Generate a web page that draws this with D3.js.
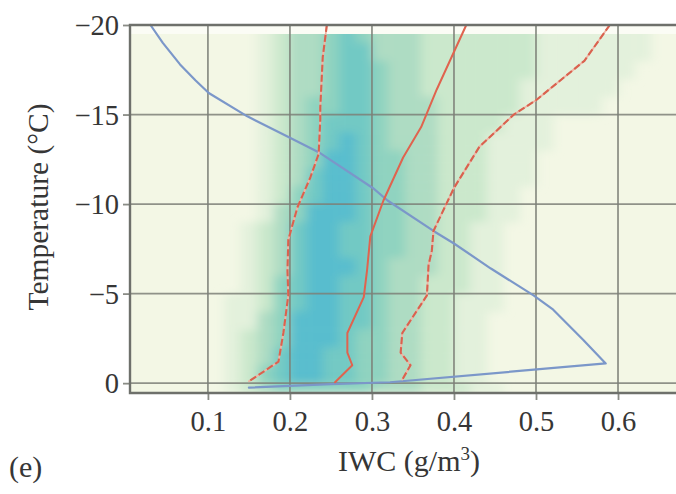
<!DOCTYPE html>
<html>
<head>
<meta charset="utf-8">
<script src="https://cdn.jsdelivr.net/npm/d3@7"></script>
<style>
  html, body { margin: 0; padding: 0; background: #ffffff; }
  svg { display: block; }
  text { font-family: "Liberation Serif", "DejaVu Serif", serif; fill: #363636; }
</style>
</head>
<body>
<svg id="chart" width="676" height="494"></svg>
<script>
// ---- data ----------------------------------------------------------------
const xTicks = [0.1, 0.2, 0.3, 0.4, 0.5, 0.6];
const xTickLabels = ["0.1", "0.2", "0.3", "0.4", "0.5", "0.6"];
const yTicks = [-20, -15, -10, -5, 0];
const yTickLabels = ["\u221220", "\u221215", "\u221210", "\u22125", "0"];

// density field: bin edges in IWC and temperature, and a level per cell
const iwcEdges = [0.12, 0.14, 0.16, 0.18, 0.20, 0.22, 0.24, 0.26, 0.28, 0.30,
                  0.32, 0.34, 0.36, 0.38, 0.40, 0.42, 0.44, 0.46, 0.48, 0.50,
                  0.52, 0.54, 0.56, 0.58, 0.60, 0.62, 0.64, 0.66, 0.68];
const tempEdges = [-19.5, -19, -18, -17, -16, -15, -14, -13, -12, -11, -10,
                   -9, -8, -7, -6, -5, -4, -3, -2, -1, 0, 0.55];
const density = [
  [0,0,1,2,3,3,4,5,4,3,3,3,2,2,2,2,2,2,2,1,1,1,1,1,1,1,0,0],
  [0,0,1,2,3,3,4,5,5,3,3,3,2,2,2,2,2,2,2,1,1,1,1,1,1,1,0,0],
  [0,0,1,2,3,3,4,5,5,4,3,3,2,2,2,2,2,2,2,1,1,1,1,1,1,0,0,0],
  [0,0,1,2,3,3,4,5,5,4,3,3,2,2,2,2,2,2,1,1,1,1,1,1,0,0,0,0],
  [0,0,1,2,3,4,4,5,5,4,3,3,3,2,2,2,2,2,1,1,1,1,1,0,0,0,0,0],
  [0,0,1,2,3,4,5,5,5,4,3,3,3,2,2,2,2,1,1,1,0,0,0,0,0,0,0,0],
  [0,0,1,2,3,4,5,6,5,4,3,3,3,2,2,2,1,1,1,1,0,0,0,0,0,0,0,0],
  [0,0,1,2,3,4,6,6,5,4,4,3,3,2,2,2,1,1,1,0,0,0,0,0,0,0,0,0],
  [0,0,1,2,3,5,6,6,5,4,4,3,3,2,2,2,1,1,1,0,0,0,0,0,0,0,0,0],
  [0,0,1,2,4,5,6,6,5,4,4,3,3,2,2,2,1,1,0,0,0,0,0,0,0,0,0,0],
  [0,0,1,3,4,6,6,6,5,4,4,3,3,2,2,2,1,1,0,0,0,0,0,0,0,0,0,0],
  [0,1,2,3,5,6,6,5,5,4,4,3,3,2,2,1,1,0,0,0,0,0,0,0,0,0,0,0],
  [0,1,2,3,5,6,6,5,5,4,4,3,3,2,2,1,1,0,0,0,0,0,0,0,0,0,0,0],
  [0,1,2,3,5,6,6,6,5,4,3,3,3,2,2,1,1,0,0,0,0,0,0,0,0,0,0,0],
  [0,1,2,4,5,6,6,5,5,4,3,3,2,2,2,1,1,0,0,0,0,0,0,0,0,0,0,0],
  [1,1,2,4,5,6,6,5,5,4,3,3,2,2,1,1,1,0,0,0,0,0,0,0,0,0,0,0],
  [1,1,3,4,6,6,6,5,5,4,3,3,2,2,1,1,0,0,0,0,0,0,0,0,0,0,0,0],
  [1,2,3,4,6,6,6,5,4,4,3,3,2,2,1,1,0,0,0,0,0,0,0,0,0,0,0,0],
  [1,2,3,5,6,6,5,5,4,4,3,3,2,2,1,1,0,0,0,0,0,0,0,0,0,0,0,0],
  [1,2,4,5,6,6,5,5,4,4,3,3,2,2,1,1,0,0,0,0,0,0,0,0,0,0,0,0],
  [1,2,3,4,4,4,4,4,4,3,3,3,2,2,2,1,1,0,0,0,0,0,0,0,0,0,0,0]
];

// profile curves: [IWC, temperature]
const blueCurve = [
  [0.030,-20], [0.045,-19], [0.066,-17.8], [0.085,-16.9], [0.101,-16.2],
  [0.148,-14.9], [0.200,-13.7], [0.235,-12.9], [0.301,-10.9], [0.319,-10.2],
  [0.375,-8.5], [0.400,-7.8], [0.445,-6.4], [0.497,-4.9], [0.521,-4.1],
  [0.558,-2.4], [0.585,-1.1], [0.322,-0.05], [0.250,0.05], [0.150,0.25]
];
const lowerDashed = [
  [0.245,-20], [0.240,-18.2], [0.237,-15.4], [0.237,-14.7], [0.235,-12.8],
  [0.225,-11.5], [0.209,-9.8], [0.198,-8.0], [0.197,-6.3], [0.198,-4.9],
  [0.192,-2.8], [0.186,-1.2], [0.150,-0.1]
];
const middleSolid = [
  [0.415,-20], [0.379,-16.4], [0.360,-14.3], [0.338,-12.6], [0.314,-10.2],
  [0.298,-8.2], [0.294,-6.3], [0.290,-4.8], [0.270,-2.8], [0.270,-1.7],
  [0.276,-1.0], [0.255,-0.05]
];
const upperDashed = [
  [0.590,-20], [0.559,-18.0], [0.500,-15.8], [0.473,-15.0], [0.431,-13.2],
  [0.400,-10.9], [0.375,-8.5], [0.373,-7.4], [0.369,-6.6], [0.367,-4.9],
  [0.337,-2.8], [0.335,-1.7], [0.347,-1.0], [0.337,-0.2]
];

// ---- layout ----------------------------------------------------------------
const svg = d3.select("#chart");
const plotLeft = 130, plotRight = 676, plotTop = 25, plotBottom = 393;

const x = d3.scaleLinear().domain([0.005, 0.6707]).range([plotLeft, plotRight]);
const y = d3.scaleLinear().domain([-20, 0.55]).range([plotTop, plotBottom]);

const levelColor = d3.scaleLinear()
  .domain([1, 2, 3, 4, 5, 6])
  .range(["#e3f1dc", "#cbe8cc", "#aedcc3", "#8fd3c0", "#72c9c4", "#58bdce"]);

const defs = svg.append("defs");
defs.append("clipPath").attr("id", "plotClip")
  .append("rect")
  .attr("x", plotLeft).attr("y", y(-19.5))
  .attr("width", plotRight - plotLeft).attr("height", plotBottom - y(-19.5));
const blur = defs.append("filter").attr("id", "soften")
  .attr("x", "-10%").attr("y", "-10%").attr("width", "120%").attr("height", "120%");
blur.append("feGaussianBlur").attr("stdDeviation", "5.5 4.5");

// plot background and the pale band above the data
svg.append("rect")
  .attr("x", plotLeft).attr("y", plotTop)
  .attr("width", plotRight - plotLeft).attr("height", plotBottom - plotTop)
  .attr("fill", "#f3f7e5");
svg.append("rect")
  .attr("x", plotLeft).attr("y", plotTop)
  .attr("width", plotRight - plotLeft).attr("height", y(-19.5) - plotTop)
  .attr("fill", "#fbfcf5");

// density cells (extended a little past the top edge so the blur keeps a crisp border)
const cells = [];
density.forEach((row, i) => {
  row.forEach((v, j) => {
    if (v > 0) cells.push({ x0: iwcEdges[j], x1: iwcEdges[j + 1],
                            t0: tempEdges[i], t1: tempEdges[i + 1], v, first: i === 0 });
  });
});
svg.append("g").attr("clip-path", "url(#plotClip)")
  .append("g").attr("filter", "url(#soften)")
  .selectAll("rect").data(cells).join("rect")
  .attr("x", d => x(d.x0))
  .attr("y", d => d.first ? y(d.t0) - 12 : y(d.t0))
  .attr("width", d => x(d.x1) - x(d.x0) + 0.5)
  .attr("height", d => y(d.t1) - y(d.t0) + 0.5 + (d.first ? 12 : 0))
  .attr("fill", d => levelColor(d.v));

// grid
const grid = svg.append("g").attr("stroke", "#7c8078").attr("stroke-width", 1.8)
  .attr("stroke-opacity", 0.85);
grid.selectAll("line.v").data(xTicks).join("line").attr("class", "v")
  .attr("x1", d => x(d)).attr("x2", d => x(d))
  .attr("y1", plotTop).attr("y2", plotBottom);
grid.selectAll("line.h").data(yTicks).join("line").attr("class", "h")
  .attr("x1", plotLeft).attr("x2", plotRight)
  .attr("y1", d => y(d)).attr("y2", d => y(d));

// curves
const line = d3.line().x(d => x(d[0])).y(d => y(d[1])).curve(d3.curveLinear);
const curves = svg.append("g").attr("fill", "none")
  .attr("stroke-linejoin", "round").attr("stroke-linecap", "round");

curves.append("path").datum(blueCurve).attr("d", line)
  .attr("stroke", "#7b97c9").attr("stroke-width", 2.2);

[lowerDashed, upperDashed].forEach(c => {
  curves.append("path").datum(c).attr("d", line)
    .attr("stroke", "#f0b3a3").attr("stroke-width", 1.8);
  curves.append("path").datum(c).attr("d", line)
    .attr("stroke", "#d9624f").attr("stroke-width", 2.1)
    .attr("stroke-linecap", "butt")
    .attr("stroke-dasharray", "7,3");
});
curves.append("path").datum(middleSolid).attr("d", line)
  .attr("stroke", "#e0634e").attr("stroke-width", 2);

// axes
const yAxis = d3.axisLeft(y).tickValues(yTicks)
  .tickFormat((d, i) => yTickLabels[i]).tickSize(7).tickPadding(4);
const xAxis = d3.axisBottom(x).tickValues(xTicks)
  .tickFormat((d, i) => xTickLabels[i]).tickSize(7).tickPadding(11);

const gy = svg.append("g").attr("transform", `translate(${plotLeft},0)`).call(yAxis);
const gx = svg.append("g").attr("transform", `translate(0,${plotBottom})`).call(xAxis);
[gx, gy].forEach(g => {
  g.select(".domain").remove();
  g.selectAll(".tick line").attr("stroke", "#8a8c86").attr("stroke-width", 1.8);
  g.selectAll(".tick text").attr("font-size", 28.5)
    .style("font-family", "'Liberation Serif', serif").attr("fill", "#363636");
});
gy.selectAll(".tick text").attr("dy", "0.34em");

// frame: left, bottom and top edges
svg.append("path")
  .attr("d", `M${plotRight},${plotTop}H${plotLeft}V${plotBottom}H${plotRight}`)
  .attr("fill", "none").attr("stroke", "#6e706b").attr("stroke-width", 2.4);

// titles
svg.append("text")
  .attr("transform", `translate(48,207) rotate(-90)`)
  .attr("text-anchor", "middle").attr("font-size", 29.5)
  .text("Temperature (\u00B0C)");

const xt = svg.append("text")
  .attr("x", 409).attr("y", 471).attr("text-anchor", "middle").attr("font-size", 30);
xt.append("tspan").text("IWC (g/m");
xt.append("tspan").attr("dy", -11).attr("font-size", 19).text("3");
xt.append("tspan").attr("dy", 11).text(")");

svg.append("text").attr("x", 9).attr("y", 477).attr("font-size", 30).text("(e)");
</script>
</body>
</html>
